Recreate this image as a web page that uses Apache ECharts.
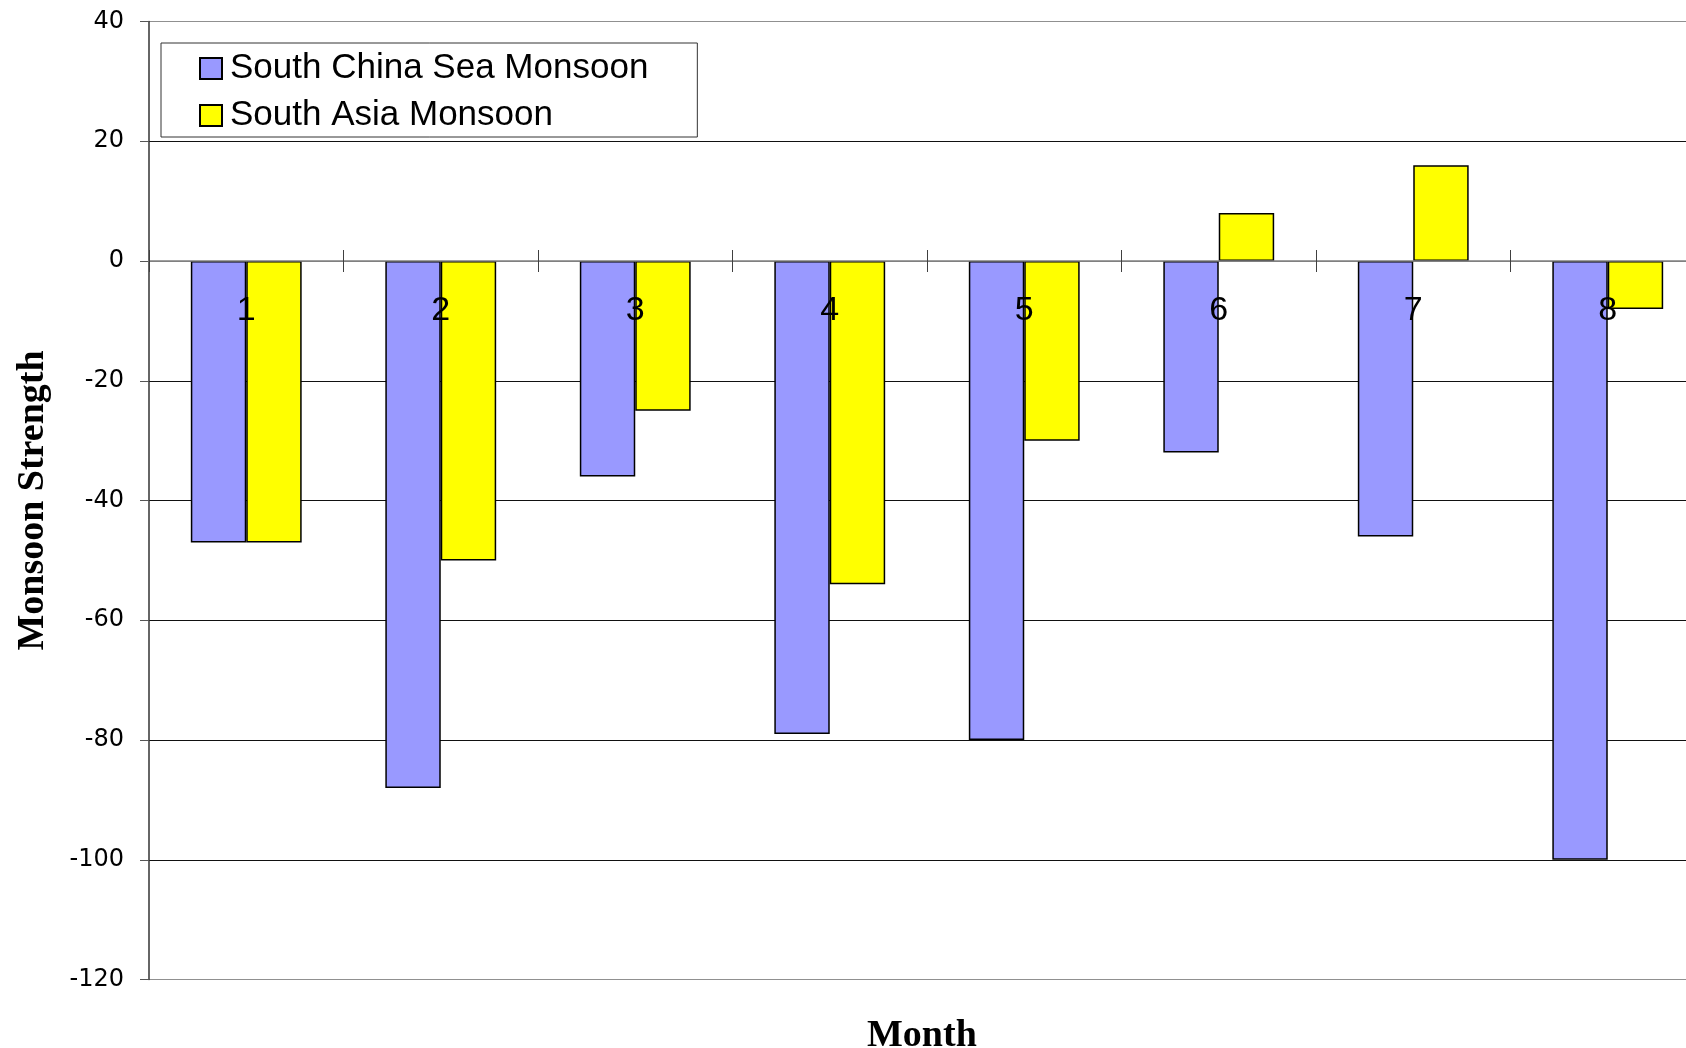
<!DOCTYPE html>
<html>
<head>
<meta charset="utf-8">
<script src="https://cdn.jsdelivr.net/npm/echarts@6/dist/echarts.min.js"></script>
<style>
html,body{margin:0;padding:0;background:#fff;overflow:hidden;}
#chart{width:1720px;height:1048px;}
</style>
</head>
<body>
<div id="chart"></div>
<script>
var months = ['1', '2', '3', '4', '5', '6', '7', '8'];
var southChinaSea = [-47, -88, -36, -79, -80, -32, -46, -100];
var southAsia = [-47, -50, -25, -54, -30, 8, 16, -8];
var seriesNames = ['South China Sea Monsoon', 'South Asia Monsoon'];
var yTicks = { min: -120, max: 40, interval: 20 };

var chart = echarts.init(document.getElementById('chart'), null, { renderer: 'canvas' });
var sans = 'Arial, "Liberation Sans", Helvetica, sans-serif';
var serif = '"Times New Roman", "Liberation Serif", serif';

var H = 1048;
var plotTop = 21.5, plotBottom = 68.5, plotLeft = 149, plotRight = 15;
var plotH = H - plotTop - plotBottom;
var zeroY = plotTop + (yTicks.max - 0) / (yTicks.max - yTicks.min) * plotH;

chart.setOption({
  animation: false,
  backgroundColor: '#ffffff',
  grid: [
    { left: plotLeft, right: plotRight, top: plotTop, bottom: plotBottom, containLabel: false },
    { left: plotLeft, right: plotRight, top: plotTop, bottom: H - zeroY, containLabel: false },
    { left: plotLeft, right: plotRight, top: zeroY, bottom: plotBottom, containLabel: false }
  ],
  legend: {
    orient: 'vertical',
    left: 161,
    top: 43,
    padding: [8, 49, 4, 38],
    itemWidth: 22,
    itemHeight: 21,
    itemGap: 12,
    icon: 'rect',
    borderColor: '#333',
    borderWidth: 1,
    backgroundColor: '#fff',
    textStyle: { fontFamily: sans, fontSize: 35, color: '#000', padding: [12, 0, 0, 3] },
    data: seriesNames
  },
  xAxis: [
    {
      type: 'category',
      gridIndex: 0,
      data: months,
      show: false
    },
    {
      type: 'category',
      gridIndex: 1,
      data: months,
      position: 'bottom',
      z: 10,
      axisLine: { show: true, onZero: false, lineStyle: { color: '#808080', width: 1.5 } },
      axisTick: { show: true, length: 11, lineStyle: { color: '#404040', width: 1 } },
      axisLabel: { fontFamily: sans, fontSize: 34, color: '#000', margin: 33, lineHeight: 34 },
      splitLine: { show: false }
    },
    {
      type: 'category',
      gridIndex: 2,
      data: months,
      position: 'top',
      z: 10,
      axisLine: { show: false, onZero: false },
      axisTick: { show: true, length: 11, lineStyle: { color: '#404040', width: 1 } },
      axisLabel: { show: false },
      splitLine: { show: false }
    }
  ],
  yAxis: [
    {
      type: 'value',
      gridIndex: 0,
      min: yTicks.min,
      max: yTicks.max,
      interval: yTicks.interval,
      name: 'Monsoon Strength',
      nameLocation: 'middle',
      nameGap: 97,
      nameTextStyle: { fontFamily: serif, fontWeight: 'bold', fontSize: 38, color: '#000' },
      axisLine: { show: true, lineStyle: { color: '#333', width: 1.5 } },
      axisTick: { show: true, length: 9, lineStyle: { color: '#555', width: 1 } },
      axisLabel: { fontFamily: '"DejaVu Sans", sans-serif', fontSize: 24, color: '#000', margin: 25 },
      splitLine: {
        show: true,
        lineStyle: {
          color: ['#909090', '#111', '#111', '#111', '#111', '#111', '#808080', '#111', '#909090'],
          width: 1
        }
      }
    },
    { type: 'value', gridIndex: 1, show: false, min: 0, max: 1 },
    { type: 'value', gridIndex: 2, show: false, min: 0, max: 1 }
  ],
  graphic: [
    {
      type: 'text',
      left: 925 - 58,
      top: 1017,
      style: { text: 'Month', fontFamily: serif, fontWeight: 'bold', fontSize: 38, fill: '#000' }
    }
  ],
  series: [
    {
      name: seriesNames[0],
      type: 'bar',
      xAxisIndex: 0,
      yAxisIndex: 0,
      data: southChinaSea,
      barGap: '0%',
      barCategoryGap: '43%',
      itemStyle: { color: '#9999FF', borderColor: '#000', borderWidth: 1.5 }
    },
    {
      name: seriesNames[1],
      type: 'bar',
      xAxisIndex: 0,
      yAxisIndex: 0,
      data: southAsia,
      barGap: '0%',
      barCategoryGap: '43%',
      itemStyle: { color: '#FFFF00', borderColor: '#000', borderWidth: 1.5 }
    }
  ]
});
</script>
</body>
</html>
